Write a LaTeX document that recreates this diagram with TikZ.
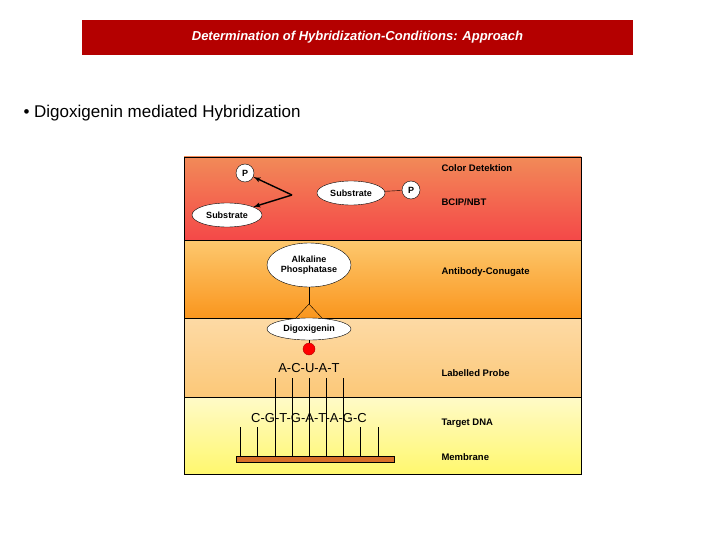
\documentclass[tikz,border=0pt]{standalone}
\usepackage{fontspec}
\setmainfont{Liberation Sans}
\usetikzlibrary{arrows,shapes.geometric}
\definecolor{titlered}{HTML}{B40000}
\definecolor{barbrown}{HTML}{D8702A}
\begin{document}
\begin{tikzpicture}[x=1pt,y=-1pt]

\tikzset{oval/.style = {ellipse,draw,fill=white,inner sep=1pt,font=\fontsize{9}{10}\selectfont\bfseries}}
\tikzset{phos/.style = {circle,draw,fill=white,inner sep=1pt,minimum size=18pt,font=\fontsize{9}{10}\selectfont\bfseries}}
\tikzset{side/.style = {anchor=west,font=\fontsize{9.5}{11}\selectfont\bfseries}}
\tikzset{edge/.style = {->,> = latex',line width=1.4pt}}
\useasboundingbox (0,0) rectangle (720,540);

% title and bullet
\node[fill=titlered,minimum width=551pt,minimum height=35pt,text=white,
  font=\fontsize{13}{15}\selectfont\bfseries\itshape] (title) at (357.5,37.5)
  {Determination of Hybridization-Conditions: Approach};
\node[anchor=west,font=\fontsize{17}{20}\selectfont] (bullet) at (20,113)
  {\textbullet\ Digoxigenin mediated Hybridization};

% bands
\shade[top color={rgb,255:red,242;green,138;blue,88},bottom color={rgb,255:red,244;green,72;blue,72}] (184,157) rectangle (581,240);
\shade[top color={rgb,255:red,253;green,200;blue,110},bottom color={rgb,255:red,250;green,150;blue,30}] (184,240) rectangle (581,318);
\shade[top color={rgb,255:red,253;green,218;blue,165},bottom color={rgb,255:red,252;green,200;blue,120}] (184,318) rectangle (581,397);
\shade[top color={rgb,255:red,255;green,250;blue,200},bottom color={rgb,255:red,255;green,248;blue,110}] (184,397) rectangle (581,474);
\foreach \y in {240,318,397}
\draw (184,\y) -- (581,\y);
\draw (184,157) rectangle (581,474);

% color reaction
\node[phos] (p1) at (245,173) {P};
\node[oval,minimum width=70pt,minimum height=24pt] (s1) at (227,215) {Substrate};
\coordinate (fork) at (292,195);
\draw[edge] (fork) -- (p1);
\draw[edge] (fork) -- (s1);
\node[oval,minimum width=68pt,minimum height=24pt] (s2) at (351,193) {Substrate};
\node[phos] (p2) at (411,190) {P};
\draw (s2) -- (p2);

% antibody conjugate
\node[oval,minimum width=84pt,minimum height=44pt,align=center,inner sep=0pt] (ap) at (309,265) {Alkaline\\Phosphatase};
\node[oval,minimum width=84pt,minimum height=22pt] (dig) at (309,329) {Digoxigenin};
\coordinate (knot) at (309,304);
\draw (ap) -- (knot);
\draw (knot) -- (296,318);
\draw (knot) -- (322,318);
\node[circle,draw=red!70!black,fill=red,minimum size=12pt,inner sep=0pt] (dot) at (309,349) {};
\draw (dig) -- (dot);

% probe and target
\node[font=\fontsize{13}{15}\selectfont] (probe) at (309,368) {A-C-U-A-T};
\node[font=\fontsize{13}{15}\selectfont] (target) at (309,418) {C-G-T-G-A-T-A-G-C};
\node[draw,fill=barbrown,minimum width=158pt,minimum height=6pt,inner sep=0pt] (membr) at (315,459) {};
\foreach \x in {275,292,309,326,343}
\draw (\x,378) -- (\x,456);
\foreach \x in {240,257,275,292,309,326,343,360,378}
\draw (\x,427) -- (\x,456);

% side labels
\node[side] (l1) at (438,168) {Color Detektion};
\node[side] (l2) at (438,202) {BCIP/NBT};
\node[side] (l3) at (438,272) {Antibody-Conugate};
\node[side] (l4) at (438,373) {Labelled Probe};
\node[side] (l5) at (438,423) {Target DNA};
\node[side] (l6) at (438,457) {Membrane};
\end{tikzpicture}
\end{document}
